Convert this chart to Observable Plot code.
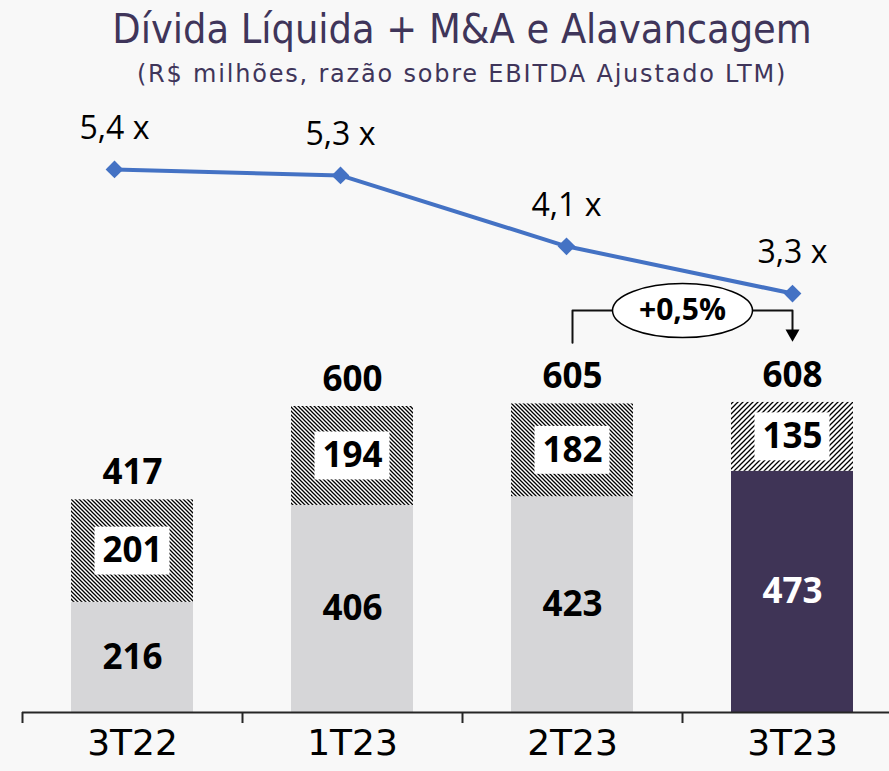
<!DOCTYPE html>
<html>
<head>
<meta charset="utf-8">
<script src="https://cdn.jsdelivr.net/npm/d3@7"></script>
<script src="https://cdn.jsdelivr.net/npm/@observablehq/plot@0.6"></script>
<style>
  html, body { margin: 0; padding: 0; background: #f8f8f8; }
  body { width: 889px; height: 771px; overflow: hidden; position: relative; font-family: "DejaVu Sans", sans-serif; }
  #title { position: absolute; left: 35px; width: 854px; top: 9px; text-align: center; font-size: 41px; line-height: 40px; color: #3f355a; font-stretch: condensed; white-space: nowrap; }
  #subtitle { position: absolute; left: 35px; width: 854px; top: 62px; text-align: center; font-size: 24px; line-height: 24px; letter-spacing: 1.8px; color: #3f355a; white-space: nowrap; }
  #chart { position: absolute; left: 0; top: 100px; width: 889px; height: 671px; }
  #chart svg { position: absolute; left: 0; top: 0; overflow: visible; }
</style>
</head>
<body>
<div id="title">Dívida Líquida + M&amp;A e Alavancagem</div>
<div id="subtitle">(R$ milhões, razão sobre EBITDA Ajustado LTM)</div>
<div id="chart"></div>
<script>
// ---- data ----
const periods = ["3T22", "1T23", "2T23", "3T23"];
const dividaLiquida = [216, 406, 423, 473];
const mna = [201, 194, 182, 135];
const totals = [417, 600, 605, 608];
const alavancagem = [5.4, 5.3, 4.1, 3.3];

// ---- helpers ----
const locale = d3.formatLocale({decimal: ",", thousands: ".", grouping: [3], currency: ["R$", ""]});
const fmtLev = locale.format(".1f");
const fmtPct = locale.format("+.1%");

const rows = periods.map((p, i) => ({
  period: p, base: dividaLiquida[i], mna: mna[i], total: totals[i], lev: alavancagem[i],
  current: i === periods.length - 1
}));

const W = 889, H = 671;
const X0 = 22, X1 = 902;
const BW = (X1 - X0) / periods.length;
const Y0PX = 612, YMAX = 1200;
const tickUnits = 11 / (Y0PX / YMAX);
const barInset = 49, boxInset = 72.5;
const boldFont = "Open Sans";

const ellipse = {
  draw(ctx) {
    const rx = 70, ry = 27, k = 0.5523;
    ctx.moveTo(rx, 0);
    ctx.bezierCurveTo(rx, ry * k, rx * k, ry, 0, ry);
    ctx.bezierCurveTo(-rx * k, ry, -rx, ry * k, -rx, 0);
    ctx.bezierCurveTo(-rx, -ry * k, -rx * k, -ry, 0, -ry);
    ctx.bezierCurveTo(rx * k, -ry, rx, -ry * k, rx, 0);
    ctx.closePath();
  }
};

const a = rows[2], b = rows[3];
const change = b.total / a.total - 1;
const bracketTop = Math.max(a.total, b.total) + 180;
const bracket = [
  {period: a.period, y: a.total + 120},
  {period: a.period, y: bracketTop},
  {period: b.period, y: bracketTop},
  {period: b.period, y: b.total + 140}
];

const bars = Plot.plot({
  width: W, height: H,
  marginLeft: X0, marginRight: 0, marginTop: 0, marginBottom: 48,
  x: {type: "band", domain: periods, range: [X0, X1], padding: 0, axis: null},
  y: {domain: [0, YMAX], range: [Y0PX, 0], axis: null},
  color: {type: "identity"},
  style: {background: "transparent", overflow: "visible"},
  marks: [
    Plot.barY(rows, {x: "period", y1: 0, y2: "base", fill: d => d.current ? "#3f3456" : "#d6d6d8", insetLeft: barInset, insetRight: barInset}),
    Plot.barY(rows, {x: "period", y1: "base", y2: "total", fill: d => d.current ? "url(#hatchB)" : "url(#hatchA)", insetLeft: barInset, insetRight: barInset}),
    Plot.barY(rows, {x: "period", y1: d => (d.base + d.total) / 2 - 47, y2: d => (d.base + d.total) / 2 + 47, fill: "white", insetLeft: boxInset, insetRight: boxInset}),
    Plot.text(rows, {x: "period", y: d => (d.base + d.total) / 2, text: d => String(d.mna), fontSize: 35, fontWeight: "bold", fontFamily: boldFont, fill: "#000"}),
    Plot.text(rows, {x: "period", y: d => d.base / 2, text: d => String(d.base), fontSize: 35, fontWeight: "bold", fontFamily: boldFont, fill: d => d.current ? "#ffffff" : "#000000"}),
    Plot.text(rows, {x: "period", y: "total", dy: -27, text: d => String(d.total), fontSize: 35, fontWeight: "bold", fontFamily: boldFont, fill: "#000"}),
    Plot.ruleY([0], {stroke: "#262626", strokeWidth: 2}),
    Plot.ruleX(periods, {x: d => d, dx: -BW / 2, y1: () => 0, y2: () => -tickUnits, stroke: "#262626", strokeWidth: 2}),
    Plot.text(periods, {x: d => d, frameAnchor: "bottom", dy: 31, text: d => d, fontSize: 36, fontFamily: "DejaVu Sans", fill: "#000"}),
    // callout
    Plot.line(bracket, {x: "period", y: "y", stroke: "#111", strokeWidth: 2}),
    Plot.dot([b], {x: "period", y: d => d.total + 135, symbol: "triangle", r: 5.2, fill: "#000", rotate: 180}),
    Plot.dot([a], {x: "period", y: () => bracketTop, dx: BW / 2, symbol: ellipse, r: 1, fill: "#fff", stroke: "#000", strokeWidth: 1.5}),
    Plot.text([a], {x: "period", y: () => bracketTop, dx: BW / 2, text: () => fmtPct(change), fontSize: 30, fontWeight: "bold", fontFamily: boldFont, fill: "#000"})
  ]
});

// hatch patterns
const defs = document.createElementNS("http://www.w3.org/2000/svg", "defs");
defs.innerHTML = `
  <pattern id="hatchA" patternUnits="userSpaceOnUse" width="4" height="4">
    <rect width="4" height="4" fill="#fff"/>
    <path d="M-1,-1L5,5M-1,3L1,5M3,-1L5,1" stroke="#000" stroke-width="1.3"/>
  </pattern>
  <pattern id="hatchB" patternUnits="userSpaceOnUse" width="5" height="5">
    <rect width="5" height="5" fill="#fff"/>
    <path d="M-1,6L6,-1M-1,1L1,-1M4,6L6,4" stroke="#000" stroke-width="1.3"/>
  </pattern>`;
bars.insertBefore(defs, bars.firstChild);

const linePlot = Plot.plot({
  width: W, height: H, margin: 0,
  x: {type: "band", domain: periods, range: [-0.3, 906.3], padding: 0, axis: null},
  y: {domain: [0, 6.5], range: [388, 4], axis: null},
  style: {background: "transparent", overflow: "visible"},
  marks: [
    Plot.line(rows, {x: "period", y: "lev", stroke: "#4472c4", strokeWidth: 4}),
    Plot.dot(rows, {x: "period", y: "lev", symbol: "diamond2", r: 8, fill: "#4472c4"}),
    Plot.text(rows, {x: "period", y: "lev", dy: -41, text: d => fmtLev(d.lev) + " x", fontSize: 32, fontFamily: "Open Sans", fill: "#000"})
  ]
});

const chart = document.getElementById("chart");
chart.appendChild(bars);
chart.appendChild(linePlot);
</script>
</body>
</html>
